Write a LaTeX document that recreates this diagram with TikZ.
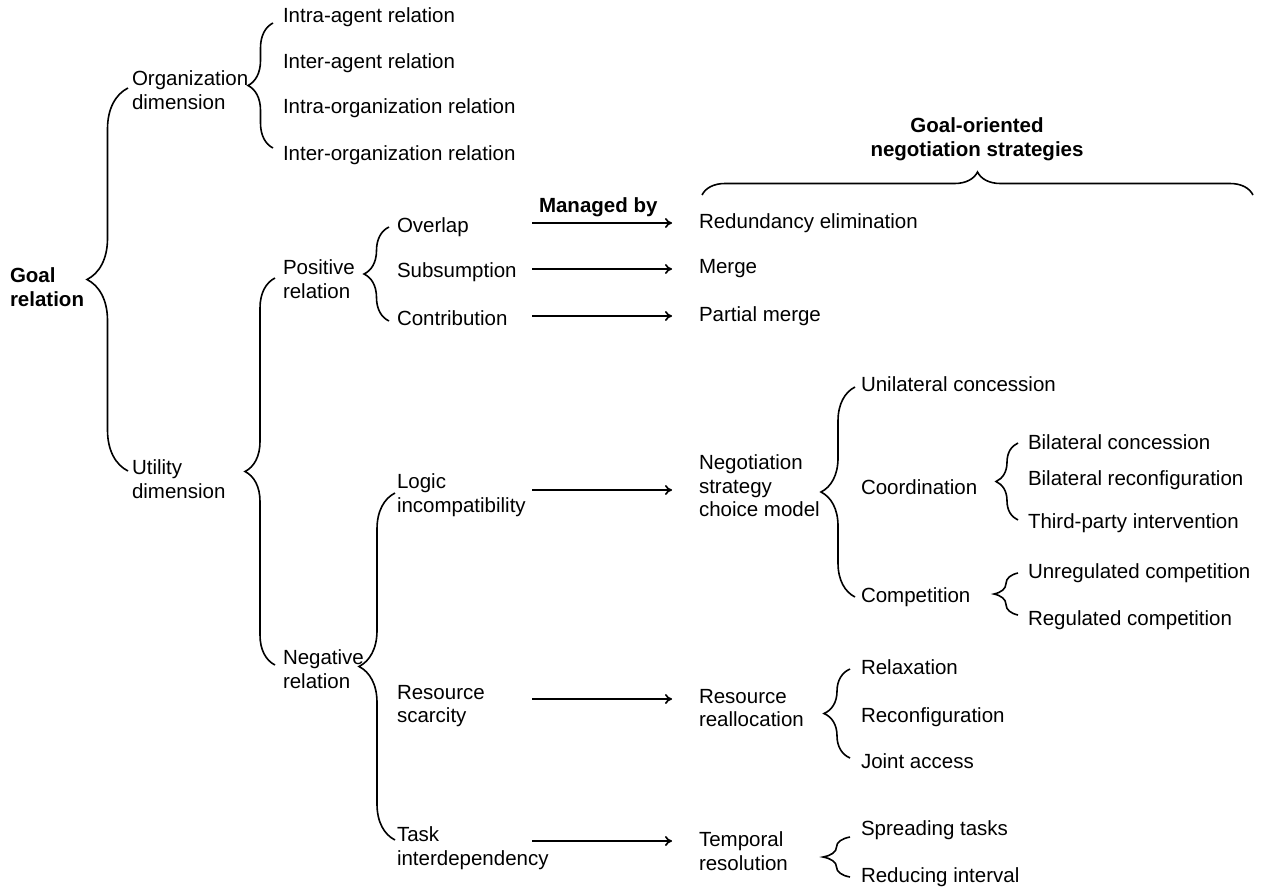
\documentclass[tikz,border=0pt]{standalone}
\usepackage{fontspec}
\setmainfont{Liberation Sans}
\usetikzlibrary{decorations.pathreplacing,arrows.meta}
\begin{document}
\begin{tikzpicture}[x=1pt,y=-1pt,
  every node/.style={inner sep=0pt, outer sep=0pt, anchor=west, align=left,
    font=\fontsize{20.5}{23.5}\selectfont},
  hd/.style={font=\fontsize{20.5}{23.5}\selectfont\bfseries},
  curly/.style={decorate, decoration={brace, amplitude=#1}, line width=1.6pt},
  mapsto/.style={-{To[length=7pt,width=10pt]}, line width=1.7pt}]
\useasboundingbox (0,0) rectangle (1265,892);

% ---- root and first level
\node[hd] (goal) at (10,287) {Goal\\relation};
\node (org) at (132,90) {Organization\\dimension};
\node (util) at (132,479) {Utility\\dimension};

% ---- organization dimension
\node (ia) at (283,17) {Intra-agent relation};
\node (ea) at (283,63) {Inter-agent relation};
\node (io) at (283,108) {Intra-organization relation};
\node (eo) at (283,155) {Inter-organization relation};

% ---- utility dimension
\node (pos) at (283,279) {Positive\\relation};
\node (neg) at (283,669) {Negative\\relation};

\node (ovl) at (397,227) {Overlap};
\node (sub) at (397,272) {Subsumption};
\node (con) at (397,318) {Contribution};

\node (logic) at (397,495) {Logic\\incompatibility};
\node (scar) at (397,706) {Resource\\scarcity};
\node (task) at (397,848) {Task\\interdependency};

% ---- strategies
\node[hd, anchor=center, align=center] (gons) at (977,139) {Goal-oriented\\negotiation strategies};
\node[hd] (mby) at (539,207) {Managed by};

\node (red) at (699,223) {Redundancy elimination};
\node (mrg) at (699,269) {Merge};
\node (pmr) at (699,316) {Partial merge};

\node (nscm) at (699,486) {Negotiation\\strategy\\choice model};
\node (rra) at (699,708) {Resource\\reallocation};
\node (tres) at (699,851) {Temporal\\resolution};

\node (uni) at (861,384) {Unilateral concession};
\node (coord) at (861,487) {Coordination};
\node (comp) at (861,597) {Competition};

\node (bcon) at (1028,442) {Bilateral concession};
\node (brec) at (1028,480) {Bilateral reconfiguration};
\node (tpi) at (1028,523) {Third-party intervention};
\node (unreg) at (1028,573) {Unregulated competition};
\node (reg) at (1028,620) {Regulated competition};

\node (rlx) at (861,667) {Relaxation};
\node (rcf) at (861,717) {Reconfiguration};
\node (jac) at (861,761) {Joint access};

\node (spr) at (861,830) {Spreading tasks};
\node (rdi) at (861,877) {Reducing interval};

% ---- brace end points
\coordinate (b1t) at (128,88);   \coordinate (b1b) at (128,471);
\coordinate (b2t) at (273,23);   \coordinate (b2b) at (273,148);
\coordinate (b3t) at (275,278);  \coordinate (b3b) at (275,665);
\coordinate (b4t) at (389,227);  \coordinate (b4b) at (389,321);
\coordinate (b5t) at (395,493);  \coordinate (b5b) at (395,840);
\coordinate (b6t) at (855,387);  \coordinate (b6b) at (855,597);
\coordinate (b7t) at (1018,443); \coordinate (b7b) at (1018,520);
\coordinate (b8t) at (1018,573); \coordinate (b8b) at (1018,615);
\coordinate (b9t) at (850,669);  \coordinate (b9b) at (850,758);
\coordinate (b10t) at (850,837); \coordinate (b10b) at (850,877);
\coordinate (bhl) at (702,195);  \coordinate (bhr) at (1253,195);

\draw[curly=41pt] (b1b) -- (b1t);
\draw[curly=25pt] (b2b) -- (b2t);
\draw[curly=30pt] (b3b) -- (b3t);
\draw[curly=25pt] (b4b) -- (b4t);
\draw[curly=36pt] (b5b) -- (b5t);
\draw[curly=34pt] (b6b) -- (b6t);
\draw[curly=22pt] (b7b) -- (b7t);
\draw[curly=24pt] (b8b) -- (b8t);
\draw[curly=26pt] (b9b) -- (b9t);
\draw[curly=27pt] (b10b) -- (b10t);
\draw[curly=23pt] (bhl) -- (bhr);

% ---- "managed by" arrows
\coordinate (a1s) at (532,223); \coordinate (a1e) at (672,223);
\coordinate (a2s) at (532,269); \coordinate (a2e) at (672,269);
\coordinate (a3s) at (532,316); \coordinate (a3e) at (672,316);
\coordinate (a4s) at (532,490); \coordinate (a4e) at (672,490);
\coordinate (a5s) at (532,699); \coordinate (a5e) at (672,699);
\coordinate (a6s) at (532,841); \coordinate (a6e) at (672,841);
\foreach \i in {1,...,6} \draw[mapsto] (a\i s) -- (a\i e);
\end{tikzpicture}
\end{document}
